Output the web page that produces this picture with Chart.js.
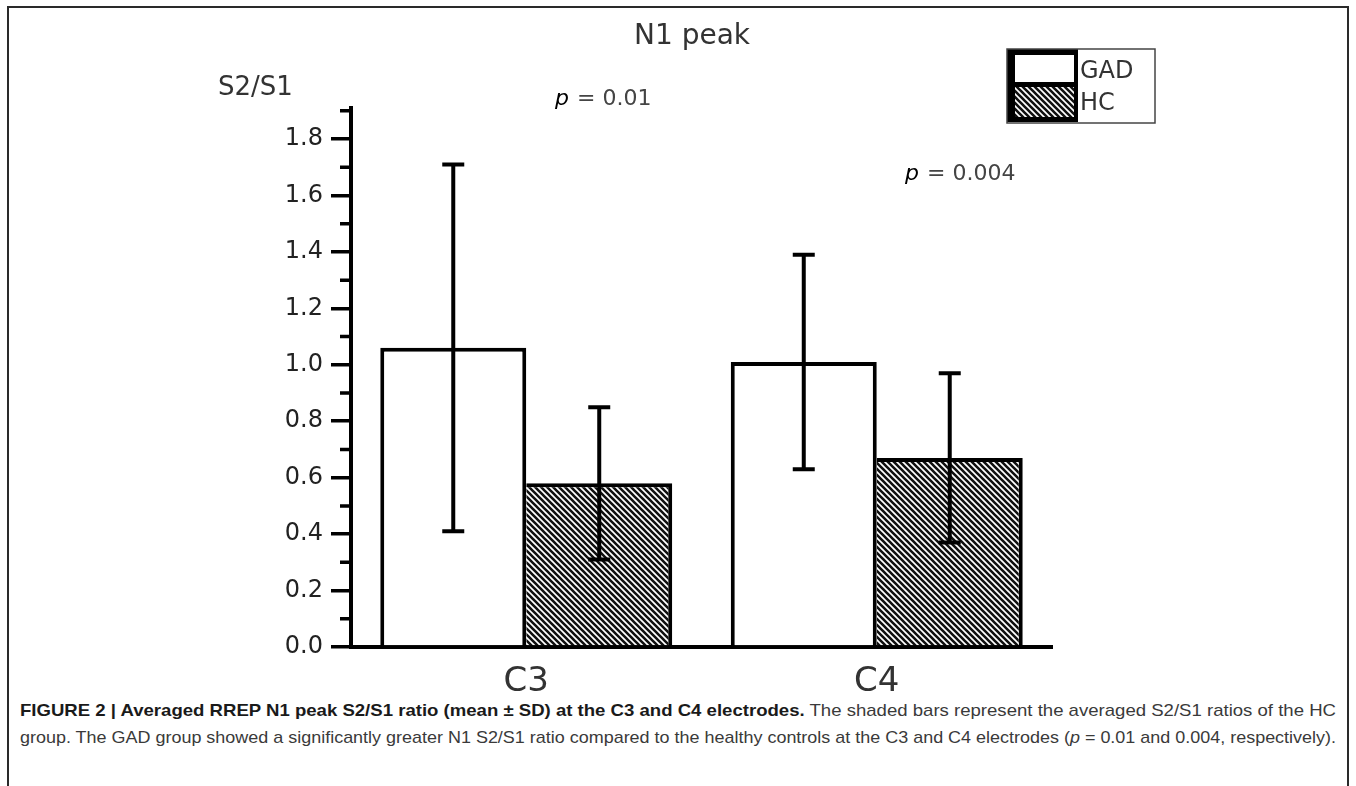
<!DOCTYPE html>
<html><head><meta charset="utf-8">
<script src="https://cdn.jsdelivr.net/npm/chart.js@4.4.0/dist/chart.umd.min.js"></script>
<style>
html,body{margin:0;padding:0;background:#fff;width:1356px;height:786px;overflow:hidden;position:relative;}
#frame{position:absolute;left:7px;top:6px;width:1342px;height:820px;border:2px solid #2a2a2a;box-sizing:border-box;}
#wrap{position:absolute;left:0;top:0;width:1356px;height:700px;}
.cap{position:absolute;left:20px;white-space:nowrap;font-family:"Liberation Sans",Arial,sans-serif;font-size:17px;color:#3a3a3a;transform-origin:0 0;}
.cap b{color:#1a1a1a;}
</style></head><body>
<div id="frame"></div>
<div id="wrap"><canvas id="c" width="1356" height="700"></canvas></div>
<div class="cap" id="l1" style="top:701px"><b>FIGURE 2 | Averaged RREP N1 peak S2/S1 ratio (mean ± SD) at the C3 and C4 electrodes.</b> The shaded bars represent the averaged S2/S1 ratios of the HC</div>
<div class="cap" id="l2" style="top:728px">group. The GAD group showed a significantly greater N1 S2/S1 ratio compared to the healthy controls at the C3 and C4 electrodes (<i>p</i> = 0.01 and 0.004, respectively).</div>
<script>
// ---- data ----
const categories = ['C3', 'C4'];
const gadMean = [1.06, 1.01];
const gadSD   = [0.65, 0.38];
const hcMean  = [0.58, 0.67];
const hcSD    = [0.27, 0.30];
const seriesNames = ['GAD', 'HC'];
const pLabels = ['0.01', '0.004'];
const yMin = 0, yMax = 1.91, yStep = 0.2;
const minorTicks = [0.1, 0.3, 0.5, 0.7, 0.9, 1.1, 1.3, 1.5, 1.7, 1.9];

const FONT = '"DejaVu Sans", "Liberation Sans", sans-serif';

function makeHatch(){
  const c = document.createElement('canvas'); c.width = 6; c.height = 6;
  const g = c.getContext('2d');
  g.fillStyle = '#fff'; g.fillRect(0,0,6,6);
  g.strokeStyle = '#111'; g.lineWidth = 2.6;
  g.beginPath();
  g.moveTo(-1,-1); g.lineTo(7,7);
  g.moveTo(-1,5); g.lineTo(1,7);
  g.moveTo(5,-1); g.lineTo(7,1);
  g.stroke();
  return g.createPattern(c, 'repeat');
}
const hatch = makeHatch();

const errorBars = {
  id: 'errorBars',
  afterDatasetsDraw(chart){
    const ctx = chart.ctx, y = chart.scales.y;
    [[gadMean, gadSD], [hcMean, hcSD]].forEach(([m, s], di) => {
      chart.getDatasetMeta(di).data.forEach((bar, i) => {
        const x = bar.x;
        const yt = y.getPixelForValue(m[i] + s[i]);
        const yb = y.getPixelForValue(m[i] - s[i]);
        ctx.save();
        ctx.strokeStyle = '#000'; ctx.lineWidth = 4;
        ctx.beginPath();
        ctx.moveTo(x, yt); ctx.lineTo(x, yb);
        ctx.moveTo(x - 11, yt); ctx.lineTo(x + 11, yt);
        ctx.moveTo(x - 11, yb); ctx.lineTo(x + 11, yb);
        ctx.stroke();
        ctx.restore();
      });
    });
  }
};

const decor = {
  id: 'decor',
  afterDraw(chart){
    const ctx = chart.ctx, y = chart.scales.y, a = chart.chartArea;
    ctx.save();
    // minor ticks
    ctx.strokeStyle = '#000'; ctx.lineWidth = 3.5;
    ctx.beginPath();
    minorTicks.forEach(v => { const py = y.getPixelForValue(v); ctx.moveTo(a.left - 11, py); ctx.lineTo(a.left, py); });
    ctx.stroke();
    // title
    ctx.fillStyle = '#333'; ctx.textBaseline = 'alphabetic';
    ctx.font = '28px ' + FONT; ctx.textAlign = 'center';
    ctx.fillText('N1 peak', 692, 44);
    // y label
    ctx.font = '26px ' + FONT; ctx.textAlign = 'left';
    ctx.fillText('S2/S1', 218, 95);
    // p values
    const pv = [[555, 105, pLabels[0]], [905, 180, pLabels[1]]];
    pv.forEach(([x, yy, t]) => {
      ctx.fillStyle = '#000'; ctx.font = 'italic 22px ' + FONT; ctx.textAlign = 'left';
      ctx.fillText('p', x, yy);
      ctx.fillStyle = '#444'; ctx.font = '22px ' + FONT;
      ctx.fillText('= ' + t, x + 22, yy);
    });
    // legend
    ctx.fillStyle = '#000'; ctx.fillRect(1007, 49, 71, 73);
    ctx.fillStyle = '#fff'; ctx.fillRect(1015, 55, 59, 27);
    ctx.fillStyle = hatch; ctx.fillRect(1015, 87, 59, 30);
    ctx.strokeStyle = '#444'; ctx.lineWidth = 1.5; ctx.strokeRect(1007, 49, 148, 74);
    ctx.fillStyle = '#333'; ctx.font = '24px ' + FONT; ctx.textBaseline = 'middle';
    ctx.fillText(seriesNames[0], 1080, 72);
    ctx.fillText(seriesNames[1], 1080, 104);
    ctx.restore();
  }
};

new Chart(document.getElementById('c'), {
  type: 'bar',
  data: {
    labels: categories,
    datasets: [
      { label: seriesNames[0], data: gadMean, backgroundColor: '#fff', borderColor: '#000',
        borderWidth: {top: 4, left: 4, right: 4, bottom: 0}, borderSkipped: false },
      { label: seriesNames[1], data: hcMean, backgroundColor: hatch, borderColor: '#000',
        borderWidth: {top: 4, left: 0, right: 4, bottom: 0}, borderSkipped: false }
    ]
  },
  options: {
    responsive: false, animation: false, devicePixelRatio: 1,
    categoryPercentage: 0.833, barPercentage: 1.0,
    layout: { padding: { left: 0, right: 304, top: 108, bottom: 0 } },
    plugins: { legend: { display: false }, tooltip: { enabled: false }, title: { display: false } },
    scales: {
      x: {
        grid: { display: false, drawTicks: false },
        border: { display: true, color: '#000', width: 4 },
        ticks: { font: { family: FONT, size: 34 }, color: '#333', padding: 15 },
        afterFit(s){ s.height = 53; }
      },
      y: {
        min: yMin, max: yMax,
        grid: { display: true, drawOnChartArea: false, drawTicks: true, tickLength: 20, lineWidth: 3.5, color: '#000' },
        border: { display: true, color: '#000', width: 4 },
        ticks: { stepSize: yStep, includeBounds: false, font: { family: FONT, size: 24 }, color: '#222', padding: 8,
                 callback: v => Number(v).toFixed(1) },
        afterFit(s){ s.width = 351; }
      }
    }
  },
  plugins: [errorBars, decor]
});

['l1','l2'].forEach(id => {
  const el = document.getElementById(id);
  const w = el.getBoundingClientRect().width;
  el.style.transform = 'scaleX(' + (1316 / w) + ')';
});
</script>
</body></html>
